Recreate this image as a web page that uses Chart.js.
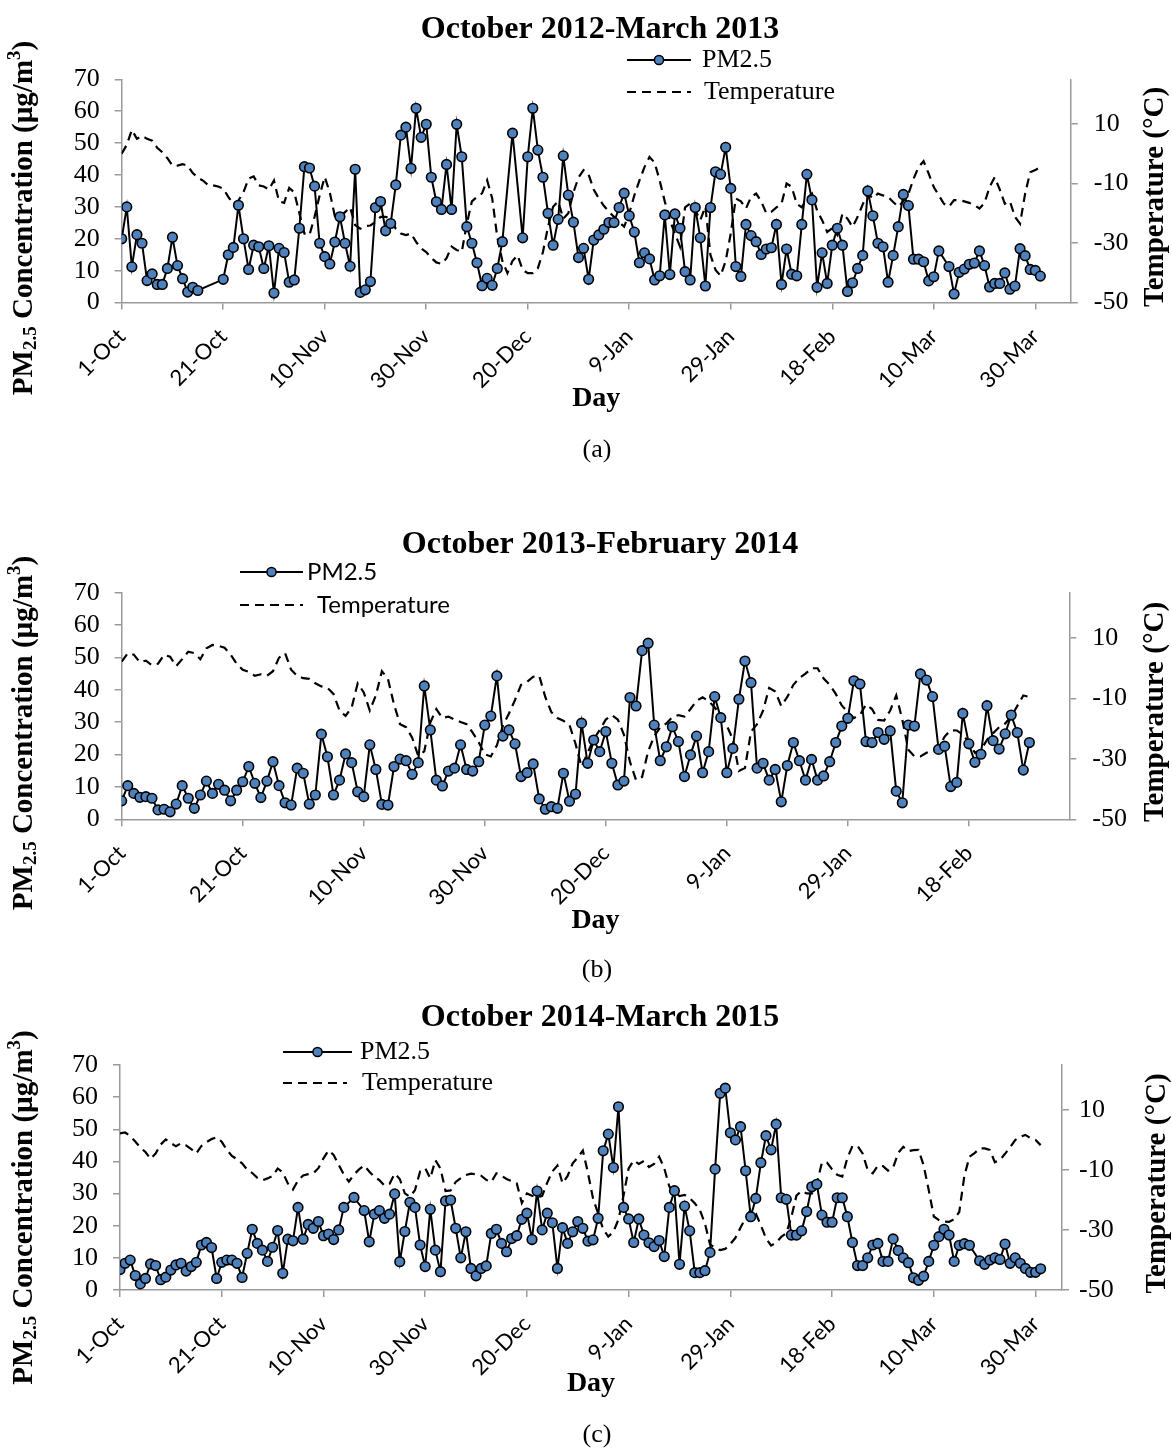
<!DOCTYPE html>
<html>
<head>
<meta charset="utf-8">
<title>PM2.5 and temperature, winter seasons</title>
<script src="https://cdn.jsdelivr.net/npm/chart.js@4.4.1/dist/chart.umd.min.js"></script>
<style>
  html, body { margin: 0; padding: 0; background: #fff; }
  #page { position: relative; width: 1172px; height: 1448px; overflow: hidden; background: #fff; }
  #page canvas { position: absolute; left: 0; }
  .cap { position: absolute; left: 0; width: 1194px; text-align: center;
         font-family: "Liberation Serif", "Times New Roman", serif; font-size: 26px;
         line-height: 30px; color: #000; }
</style>
</head>
<body>
<div id="page">
  <canvas id="chartA" width="1172" height="480" style="top:0;width:1172px;height:480px"></canvas>
  <canvas id="chartB" width="1172" height="480" style="top:480px;width:1172px;height:480px"></canvas>
  <canvas id="chartC" width="1172" height="488" style="top:960px;width:1172px;height:488px"></canvas>
  <div class="cap" style="top:434px">(a)</div>
  <div class="cap" style="top:954px">(b)</div>
  <div class="cap" style="top:1419px">(c)</div>
</div>
<script>
// ---- axis ticks -------------------------------------------------------------
const pmTicks = [0, 10, 20, 30, 40, 50, 60, 70];
const tempTicks = [-50, -30, -10, 10];
const dayTicksLong = [0, 20, 40, 60, 80, 100, 120, 140, 160, 180];
const dayLabelsLong = ['1-Oct', '21-Oct', '10-Nov', '30-Nov', '20-Dec', '9-Jan', '29-Jan', '18-Feb', '10-Mar', '30-Mar'];
const dayTicksShort = [0, 20, 40, 60, 80, 100, 120, 140];
const dayLabelsShort = ['1-Oct', '21-Oct', '10-Nov', '30-Nov', '20-Dec', '9-Jan', '29-Jan', '18-Feb'];

// ---- October 2012 - March 2013 (day 0 = 1 October) -------------------------
const pm2012 = [
  20, 30, 11.2, 21.3, 18.6, 6.9, 9, 5.7, 5.7, 10.7,
  20.5, 11.6, 7.5, 3.3, 4.8, 3.8, null, null, null, null,
  7.3, 15, 17.3, 30.5, 20, 10.4, 18, 17.5, 10.7, 17.8,
  3, 17, 15.7, 6.4, 7.1, 23.3, 42.6, 42.2, 36.5, 18.6,
  14.4, 12.1, 19, 26.9, 18.6, 11.4, 41.8, 3.2, 4, 6.6,
  29.8, 31.7, 22.5, 24.8, 36.9, 52.5, 55, 42.1, 60.9, 51.8,
  55.9, 39.3, 31.6, 29.2, 43.3, 29.2, 55.9, 45.7, 23.8, 18.6,
  12.5, 5.3, 7.6, 5.4, 10.7, 19.1, null, 53.1, null, 20.3,
  45.7, 60.9, 47.8, 39.3, 28, 18, 26.1, 46, 33.7, 25.2,
  14.1, 17, 7.3, 19.6, 21.2, 23, 25.1, 25.1, 29.8, 34.3,
  27.2, 22.1, 12.5, 15.6, 13.7, 7.1, 8.4, 27.5, 8.8, 27.8,
  23.3, 9.7, 7.1, 29.8, 20.3, 5.2, 29.8, 41, 40.2, 48.7,
  35.8, 11.3, 8.2, 24.5, 21, 19.1, 15.1, 16.8, 17.2, 24.5,
  5.7, 16.8, 8.9, 8.4, 24.5, 40.2, 32.2, 4.8, 15.6, 6,
  18, 23.3, 18, 3.5, 6.2, 10.7, 14.8, 35, 27.2, 18.6,
  17.5, 6.4, 14.8, 23.8, 33.9, 30.4, 13.6, 13.6, 12.8, 6.8,
  8.1, 16.2, null, 11.3, 2.7, 9.5, 10.5, 12, 12.4, 16.2,
  11.6, 4.9, 6, 6, 9.3, 4.2, 5.2, 16.9, 14.7, 10.4,
  10.1, 8.3
];
const temp2012 = [
  0, 3, 8, 5, 6, 5, 4.4, 2, 0.5, -1.5,
  -4, -4, -3.5, -4, -6.5, -8, -9, -10.5, -10.6, -11,
  -11.7, -14.5, -16.8, -15.7, -12.9, -8.4, -7.6, -10.6, -11, -12,
  -9, -16, -16.5, -11.5, -13, -20, -26.8, -27.3, -21.2, -14,
  -7.8, -13, -21, -21.2, -19.6, -18, -24, -25.2, -24.3, -24.1,
  -22.9, -21.2, -21.2, -21.8, -25.2, -26.8, -27.3, -26.8, -29.6, -31.8,
  -33, -35, -36.5, -37, -35.1, -31.2, -32.3, -33, -23.5, -16,
  -14.5, -13.3, -8.9, -15, -28, -36, -40.1, -36, -34.1, -39,
  -40.1, -40.1, -38.4, -33, -24.5, -17.8, -16, -21.8, -20, -13,
  -8, -5.5, -7, -12, -15, -17.5, -19.5, -21.2, -23, -24.5,
  -20, -14, -9, -4.5, -1.1, -3, -9, -16, -22.3, -26.8,
  -31.2, -18, -16.7, -19, -22.3, -17.8, -34, -39, -41, -36,
  -26.8, -15, -16, -18.4, -14.5, -13.4, -16, -20, -19.5, -18,
  -16.8, -10, -11.1, -16.8, -18, -15, -13.4, -19, -22.3, -26.3,
  -25, -27.3, -20.1, -21.8, -24.6, -21.2, -17, -13.4, -15, -13.4,
  -14, -14.5, -16.2, -17.8, -16, -13.5, -8.5, -4.5, -2.5, -6.7,
  -11.2, -14, -16.8, -17.8, -15.6, -15.6, -16, -16.5, -17.3, -18.4,
  -16.5, -11.2, -7.9, -12, -16.8, -16, -21.2, -23.5, -13.4, -6.2,
  -5.5, -4.5
];

// ---- October 2013 - February 2014 ------------------------------------------
const pm2013 = [
  5.7, 10.4, 8, 6.8, 7, 6.5, 2.9, 3.1, 2.3, 4.7,
  10.4, 6.5, 3.4, 7.5, 11.8, 8, 10.8, 9, 5.7, 9,
  11.6, 16.3, 11.1, 6.7, 11.8, 17.8, 10.4, 5.1, 4.4, 15.8,
  14.2, 4.7, 7.5, 26.3, 19.3, 7.5, 12.1, 20.2, 17.5, 8.5,
  7, 23, 15.4, 4.6, 4.4, 16.3, 18.6, 18.1, 13.9, 17.5,
  41.2, 27.6, 12.1, 10.3, 14.9, 15.8, 23, 15.4, 14.9, 17.8,
  29.1, 31.9, 44.3, 25.7, 27.6, 23.3, 13.2, 14.4, 17.1, 6.3,
  3.1, 3.9, 3.4, 14.2, 5.6, 7.8, 29.7, 17.3, 24.5, 20.9,
  27.1, 17.3, 10.6, 11.8, 37.6, 35, 52.1, 54.4, 29.1, 18.1,
  22.4, 28.6, 24, 13.2, 19.9, 25.7, 14.4, 20.9, 37.9, 31.4,
  14.4, 21.9, 37.1, 48.9, 42.2, 15.8, 17.3, 12.1, 15.4, 5.4,
  16.6, 23.7, 18.1, 12.1, 18.5, 12.1, 13.4, 17.8, 23.7, 28.8,
  31.2, 42.8, 41.8, 24, 23.7, 26.8, 24.7, 27.3, 8.7, 5.1,
  29.1, 28.8, 44.9, 43, 37.9, 21.6, 22.6, 10.1, 11.4, 32.7,
  23.3, 17.6, 20.1, 35.1, 24.3, 21.7, 26.4, 32.2, 26.8, 15.2,
  23.7
];
const temp2013 = [
  2.2, 5, 4.5, 2, 2.5, 1, 1.5, 4.4, 3.8, 0.7,
  3, 5.5, 5, 3, 6.6, 7.7, 7.4, 6.8, 4.5, 1.5,
  -0.5, -1.2, -2.5, -2, -2.5, -1, 3.5, 5, -0.5, -2.5,
  -3.3, -3.5, -5, -6, -6.5, -8.5, -14, -15.8, -13, -5,
  -8, -14, -9, -1, -3.5, -12, -18.5, -19.5, -23, -29,
  -27.5, -18, -13.5, -16.5, -16, -17, -17.8, -18.5, -21.3, -24.5,
  -28.5, -29.2, -25.5, -19, -15, -10.5, -5.5, -4.5, -2.8, -2.5,
  -9.5, -14.5, -16.5, -17.4, -18.8, -25, -32.6, -28, -23.5, -20.4,
  -17, -15.5, -17, -22, -31, -37, -36, -27.5, -22.5, -19.5,
  -18.3, -16.2, -15.5, -16, -13.5, -10.8, -9.6, -10.9, -13, -15.5,
  -19, -23.5, -34, -33, -21, -18.5, -14, -6.5, -7.7, -12.5,
  -9.5, -5.5, -3.2, -1.8, 0, 0, -3.4, -5.5, -8.5, -12.3,
  -14.5, -16.5, -15.5, -12, -13.5, -17.1, -17.3, -14, -9, -17,
  -27, -29.2, -29.2, -28, -27.1, -26.6, -22.6, -20.5, -20.6, -22,
  -24.5, -28, -27, -23.7, -21.5, -19.5, -18.3, -16, -12.5, -9,
  -9.5
];

// ---- October 2014 - March 2015 ---------------------------------------------
const pm2014 = [
  6.4, 8.3, 9.3, 4.5, 1.9, 3.6, 8.1, 7.6, 3.2, 4,
  6.2, 7.8, 8.3, 5.9, 7.3, 8.6, 14, 14.8, 13.2, 3.6,
  8.6, 9.3, 9.3, 8.3, 3.9, 11.4, 18.9, 14.5, 12.4, 8.9,
  13.3, 18.5, 5.2, 15.8, 15.3, 25.7, 15.8, 20.4, 19.2, 21.3,
  16.9, 17.4, 15.7, 18.7, 25.7, null, 28.8, null, 24.7, 15,
  23.6, 24.7, 22.3, 23.6, 29.9, 8.8, 18.2, 27.3, 25.7, 14,
  7.3, 25.1, 12.4, 5.7, 27.7, 28, 19.2, 10, 18.1, 6.7,
  4.4, 6.7, 7.5, 17.6, 18.9, 14.5, 11.9, 16, 16.9, 22,
  23.9, 15.7, 30.8, 18.7, 23.9, 20.9, 6.7, 19.4, 14.5, 18.1,
  21.3, 19.2, 15.2, 15.6, 22.3, 43.3, 48.5, 38.1, 57, 25.7,
  22.1, 14.8, 22.1, 17.1, 14.7, 13.5, 15.4, 10.4, 25.7, 30.9,
  8, 26.1, 18.4, 5.4, 5.4, 6, 11.7, 37.6, 61.2, 62.8,
  48.9, 46.7, 50.8, 37.1, 22.8, 28.5, 39.6, 48, 43.6, 51.6,
  28.7, 28.2, 17.1, 17.1, 18.4, 24.4, 32.1, 32.9, 23.3, 21.1,
  21.1, 28.7, 28.7, 22.8, 14.8, 7.6, 7.6, 10, 14, 14.5,
  8.9, 8.9, 15.9, 12.3, 10, 8.5, 3.8, 3, 4.3, 8.9,
  13.9, 16.6, 18.9, 17.1, 8.9, 13.9, 14.4, 13.9, null, 9.1,
  8, 9.3, 10, 9.5, 14.3, 8.3, 10, 8.3, 6.7, 5.5,
  5.5, 6.6
];
const temp2014 = [
  2.2, 2.5, 1.3, -0.5, -2.5, -4, -6.3, -4.5, -1.5, 0.2,
  -1, -2.1, -1.1, -1.8, -3, -4.5, -2, -0.7, 0.3, 0.9,
  -0.6, -3.3, -5.3, -6.4, -7.8, -9.9, -11, -12.6, -13.4, -12.8,
  -12, -9.5, -10.8, -14.5, -16.5, -13.5, -11.8, -11.4, -11.1, -9.4,
  -6.1, -3.5, -5, -8.3, -11.5, -13.9, -11.5, -9.8, -8.5, -10.5,
  -12.3, -13.4, -15.2, -14.6, -11.2, -13, -17.8, -18.9, -16.7, -10.5,
  -9.4, -12.8, -6.7, -9.5, -17, -16.8, -14, -12.7, -11.7, -11.2,
  -11.4, -11.9, -13.3, -14, -11.1, -11.9, -13, -13.7, -14.4, -21,
  -17.8, -18.6, -19.2, -18.6, -14.2, -10.5, -8.5, -14.4, -12, -7.8,
  -5.8, -3.5, -11, -19.5, -24.5, -29.8, -32.2, -30.6, -26.5, -18.5,
  -9.5, -6.8, -8, -7, -9, -8, -5.6, -9.4, -15.5, -17.3,
  -18.7, -18.3, -19.4, -21.1, -23.3, -27.8, -34.8, -36, -36.7, -36.3,
  -34.7, -32.6, -29.2, -26, -23.3, -24.5, -28.5, -32.7, -35.2, -34.2,
  -32.3, -31.1, -25.6, -18.5, -17, -17.8, -17.9, -14.5, -7.5, -7.5,
  -9.8, -11.6, -12.2, -6, -2, -2, -4.5, -10, -11.1, -8.5,
  -8.7, -10.2, -9.2, -4.3, -2.3, -3.7, -3.4, -3.3, -8.5, -16.7,
  -25.5, -26.7, -27.2, -27.3, -26.4, -24, -12, -5.6, -4.4, -2.8,
  -2.8, -3.3, -7.4, -6.7, -4.6, -2.4, 0, 1.1, 1.7, 0.6,
  0, -1.7
];

// ---- drawing helpers --------------------------------------------------------
const SERIF = '"Liberation Serif", "Times New Roman", serif';
const SANS = 'Lato, "Open Sans", sans-serif';
const AXIS_GREY = '#9a9a9a';
const MARKER_BLUE = '#4f81bd';

function drawPmKey(ctx, x1, x2, y) {
  ctx.save();
  ctx.strokeStyle = '#000';
  ctx.lineWidth = 2;
  ctx.beginPath(); ctx.moveTo(x1, y); ctx.lineTo(x2, y); ctx.stroke();
  ctx.beginPath(); ctx.arc((x1 + x2) / 2, y, 4.6, 0, Math.PI * 2);
  ctx.fillStyle = MARKER_BLUE; ctx.fill();
  ctx.lineWidth = 1.5; ctx.stroke();
  ctx.restore();
}
function drawTempKey(ctx, x1, x2, y) {
  ctx.save();
  ctx.strokeStyle = '#000';
  ctx.lineWidth = 2.2;
  ctx.setLineDash([9, 6]);
  ctx.beginPath(); ctx.moveTo(x1, y); ctx.lineTo(x2, y); ctx.stroke();
  ctx.restore();
}

// Titles, axis titles (with sub/superscripts) and the key for each panel
const panelText = {
  id: 'panelText',
  afterDraw(chart, args, o) {
    const ctx = chart.ctx;
    const area = chart.chartArea;
    const midY = (area.top + area.bottom) / 2;
    ctx.save();
    ctx.fillStyle = '#000';
    ctx.textBaseline = 'middle';

    // panel title
    ctx.textAlign = 'center';
    ctx.font = 'bold 32px ' + SERIF;
    ctx.fillText(o.title, 600, o.titleY);

    // x axis title
    ctx.font = 'bold 28px ' + SERIF;
    ctx.fillText('Day', (area.left + area.right) / 2, o.dayY);

    // right axis title
    ctx.save();
    ctx.translate(o.rightTitleX, midY + 6);
    ctx.rotate(-Math.PI / 2);
    ctx.font = 'bold 29px ' + SERIF;
    ctx.fillText('Temperature (\u00B0C)', 0, 0);
    ctx.restore();

    // left axis title: PM2.5 Concentration (µg/m3)
    const parts = [
      { t: 'PM', size: 29, dy: 0 },
      { t: '2.5', size: 19, dy: 6 },
      { t: ' Concentration (\u00B5g/m', size: 29, dy: 0 },
      { t: '3', size: 19, dy: -10 },
      { t: ')', size: 29, dy: 0 }
    ];
    let total = 0;
    parts.forEach(p => { ctx.font = 'bold ' + p.size + 'px ' + SERIF; p.w = ctx.measureText(p.t).width; total += p.w; });
    ctx.save();
    ctx.translate(25, midY + o.leftTitleShift);
    ctx.rotate(-Math.PI / 2);
    ctx.textAlign = 'left';
    let cx = -total / 2;
    parts.forEach(p => {
      ctx.font = 'bold ' + p.size + 'px ' + SERIF;
      ctx.fillText(p.t, cx, p.dy);
      cx += p.w;
    });
    ctx.restore();

    // key
    const k = o.key;
    drawPmKey(ctx, k.x1, k.x2, k.pmY);
    drawTempKey(ctx, k.x1, k.x2t, k.tY);
    ctx.textAlign = 'left';
    ctx.font = k.font;
    ctx.fillText('PM2.5', k.pmTextX, k.pmY);
    ctx.fillText('Temperature', k.tTextX, k.tY);
    ctx.restore();
  }
};

function makePanel(canvasId, p) {
  const pmData = p.pm.map((v, i) => ({ x: i, y: v }));
  const tempData = p.temp.map((v, i) => ({ x: i, y: v }));
  const tickSide = () => ({
    display: true, drawOnChartArea: false, drawTicks: true,
    tickLength: 7, color: AXIS_GREY, lineWidth: 1.5
  });
  return new Chart(document.getElementById(canvasId), {
    type: 'line',
    data: {
      datasets: [
        {
          label: 'PM2.5', data: pmData, yAxisID: 'y', order: 0,
          borderColor: '#000', borderWidth: 2, tension: 0, spanGaps: true,
          pointRadius: 4.8, pointBorderWidth: 1.6,
          pointBackgroundColor: MARKER_BLUE, pointBorderColor: '#000'
        },
        {
          label: 'Temperature', data: tempData, yAxisID: 'y2', order: 1,
          borderColor: '#000', borderWidth: 2.2, borderDash: [9, 6],
          tension: 0, pointRadius: 0
        }
      ]
    },
    options: {
      responsive: false, animation: false, devicePixelRatio: 1,
      layout: { padding: { top: p.top, left: 0, right: 0, bottom: 0 } },
      plugins: { legend: { display: false }, tooltip: { enabled: false }, panelText: p.text },
      scales: {
        x: {
          type: 'linear', min: 0, max: p.xMax,
          afterBuildTicks: s => { s.ticks = p.dayTicks.map(v => ({ value: v })); },
          afterFit: s => { s.height = p.xAxisH; },
          ticks: {
            autoSkip: false, minRotation: 45, maxRotation: 45, padding: 14,
            color: '#000', font: { family: SANS, size: 22 },
            callback: (v, i) => p.dayLabels[i]
          },
          grid: tickSide(),
          border: { display: true, color: AXIS_GREY, width: 1.5 }
        },
        y: {
          position: 'left', min: 0, max: 70,
          afterBuildTicks: s => { s.ticks = pmTicks.map(v => ({ value: v })); },
          afterFit: s => { s.width = p.leftW; },
          ticks: { autoSkip: false, padding: 15, color: '#000', font: { family: SERIF, size: 26, lineHeight: 1 } },
          grid: tickSide(),
          border: { display: true, color: AXIS_GREY, width: 1.5 }
        },
        y2: {
          position: 'right', min: -50, max: 25,
          afterBuildTicks: s => { s.ticks = tempTicks.map(v => ({ value: v })); },
          afterFit: s => { s.width = p.rightW; },
          ticks: { autoSkip: false, padding: p.rightPad, color: '#000', font: { family: SERIF, size: 26, lineHeight: 1 } },
          grid: tickSide(),
          border: { display: true, color: AXIS_GREY, width: 1.5 }
        }
      }
    },
    plugins: [panelText]
  });
}

makePanel('chartA', {
  pm: pm2012, temp: temp2012, dayTicks: dayTicksLong, dayLabels: dayLabelsLong,
  xMax: 187, top: 79.3, xAxisH: 480 - 302.6, leftW: 121.7, rightW: 1172 - 1070.8, rightPad: 16,
  text: {
    title: 'October 2012-March 2013', titleY: 29.5, dayY: 399, rightTitleX: 1156, leftTitleShift: 27,
    key: { x1: 627, x2: 691, x2t: 691, pmY: 60, tY: 92, pmTextX: 702, tTextX: 704, font: '26px ' + SERIF }
  }
});

makePanel('chartB', {
  pm: pm2013, temp: temp2013, dayTicks: dayTicksShort, dayLabels: dayLabelsShort,
  xMax: 156.6, top: 112.7, xAxisH: 480 - 339.3, leftW: 121.7, rightW: 1172 - 1069.3, rightPad: 16,
  text: {
    title: 'October 2013-February 2014', titleY: 65, dayY: 441, rightTitleX: 1156, leftTitleShift: 27,
    key: { x1: 240, x2: 303, x2t: 303, pmY: 92, tY: 125, pmTextX: 307, tTextX: 317, font: '24px ' + SANS }
  }
});

makePanel('chartC', {
  pm: pm2014, temp: temp2014, dayTicks: dayTicksLong, dayLabels: dayLabelsLong,
  xMax: 185.2, top: 105, xAxisH: 488 - 330, leftW: 120, rightW: 1172 - 1062, rightPad: 10,
  text: {
    title: 'October 2014-March 2015', titleY: 57.5, dayY: 424, rightTitleX: 1158, leftTitleShift: 30,
    key: { x1: 283, x2: 352, x2t: 347, pmY: 92, tY: 123, pmTextX: 360, tTextX: 362, font: '26px ' + SERIF }
  }
});
</script>
</body>
</html>
